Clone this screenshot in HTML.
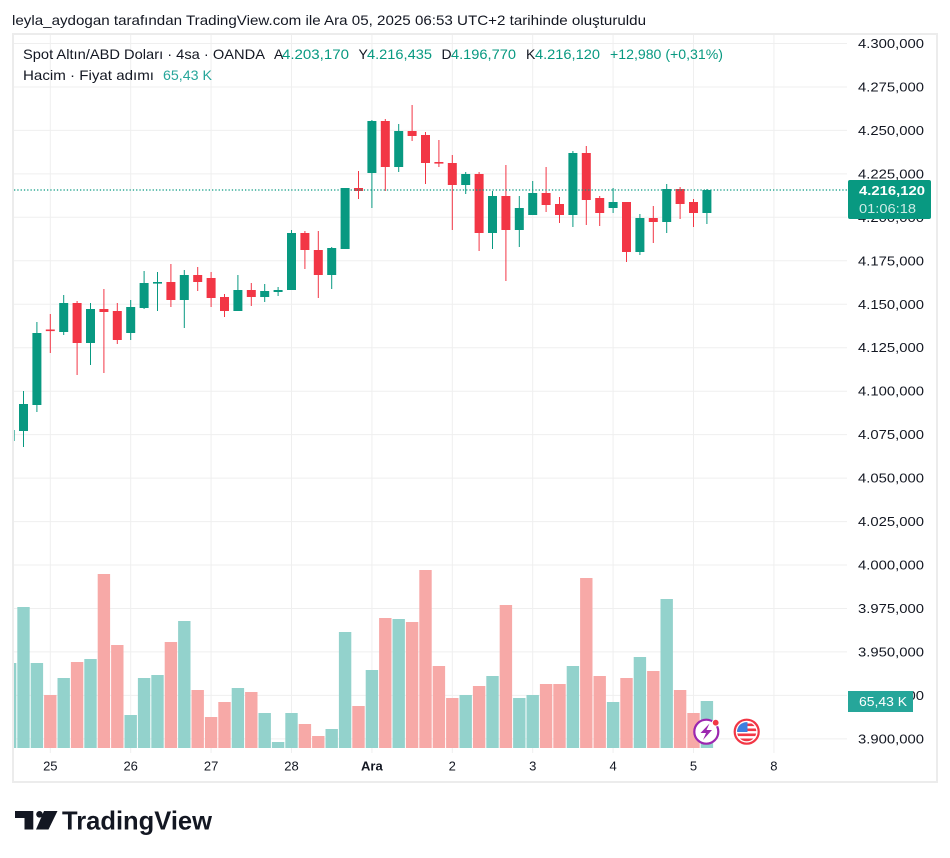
<!DOCTYPE html>
<html>
<head>
<meta charset="utf-8">
<style>
html,body{margin:0;padding:0;background:#fff;}
svg{display:block;}
text{font-family:"Liberation Sans","DejaVu Sans",sans-serif;}
</style>
</head>
<body>
<svg width="950" height="858" viewBox="0 0 950 858" xmlns="http://www.w3.org/2000/svg">
<rect x="0" y="0" width="950" height="858" fill="#ffffff"/>

<!-- header -->
<text x="12" y="25" font-size="14" fill="#131722" textLength="634" lengthAdjust="spacingAndGlyphs">leyla_aydogan tarafından TradingView.com ile Ara 05, 2025 06:53 UTC+2 tarihinde oluşturuldu</text>

<!-- frame -->
<rect x="13" y="34" width="924" height="748" fill="none" stroke="#ececec" stroke-width="2"/>

<defs>
<clipPath id="plot"><rect x="14" y="35" width="833" height="717"/></clipPath>
<clipPath id="flagc"><circle cx="746.7" cy="731.7" r="9.6"/></clipPath>
</defs>

<!-- grid -->
<g stroke="#efefef" stroke-width="1">
<line x1="14" x2="847" y1="43.5" y2="43.5"/>
<line x1="14" x2="847" y1="87" y2="87"/>
<line x1="14" x2="847" y1="130.4" y2="130.4"/>
<line x1="14" x2="847" y1="173.9" y2="173.9"/>
<line x1="14" x2="847" y1="217.3" y2="217.3"/>
<line x1="14" x2="847" y1="260.8" y2="260.8"/>
<line x1="14" x2="847" y1="304.3" y2="304.3"/>
<line x1="14" x2="847" y1="347.7" y2="347.7"/>
<line x1="14" x2="847" y1="391.2" y2="391.2"/>
<line x1="14" x2="847" y1="434.6" y2="434.6"/>
<line x1="14" x2="847" y1="478.1" y2="478.1"/>
<line x1="14" x2="847" y1="521.6" y2="521.6"/>
<line x1="14" x2="847" y1="565" y2="565"/>
<line x1="14" x2="847" y1="608.5" y2="608.5"/>
<line x1="14" x2="847" y1="651.9" y2="651.9"/>
<line x1="14" x2="847" y1="695.4" y2="695.4"/>
<line x1="14" x2="847" y1="738.9" y2="738.9"/>
<line y1="35" y2="753" x1="50.3" x2="50.3"/>
<line y1="35" y2="753" x1="130.7" x2="130.7"/>
<line y1="35" y2="753" x1="211.1" x2="211.1"/>
<line y1="35" y2="753" x1="291.5" x2="291.5"/>
<line y1="35" y2="753" x1="371.9" x2="371.9"/>
<line y1="35" y2="753" x1="452.3" x2="452.3"/>
<line y1="35" y2="753" x1="532.7" x2="532.7"/>
<line y1="35" y2="753" x1="613.1" x2="613.1"/>
<line y1="35" y2="753" x1="693.5" x2="693.5"/>
<line y1="35" y2="753" x1="773.9" x2="773.9"/>
</g>

<g clip-path="url(#plot)">
<!-- volume bars -->
<g fill="#93d2cc">
<rect x="3.9" y="663" width="12.4" height="85"/>
<rect x="17.3" y="607" width="12.4" height="141"/>
<rect x="30.7" y="663" width="12.4" height="85"/>
<rect x="57.5" y="678" width="12.4" height="70"/>
<rect x="84.3" y="659" width="12.4" height="89"/>
<rect x="124.5" y="715" width="12.4" height="33"/>
<rect x="137.9" y="678" width="12.4" height="70"/>
<rect x="151.3" y="675" width="12.4" height="73"/>
<rect x="178.1" y="621" width="12.4" height="127"/>
<rect x="231.7" y="688" width="12.4" height="60"/>
<rect x="258.5" y="713" width="12.4" height="35"/>
<rect x="271.9" y="742" width="12.4" height="6"/>
<rect x="285.3" y="713" width="12.4" height="35"/>
<rect x="325.5" y="729" width="12.4" height="19"/>
<rect x="338.9" y="632" width="12.4" height="116"/>
<rect x="365.7" y="670" width="12.4" height="78"/>
<rect x="392.5" y="619" width="12.4" height="129"/>
<rect x="459.5" y="695" width="12.4" height="53"/>
<rect x="486.3" y="676" width="12.4" height="72"/>
<rect x="513.1" y="698" width="12.4" height="50"/>
<rect x="526.5" y="695" width="12.4" height="53"/>
<rect x="566.7" y="666" width="12.4" height="82"/>
<rect x="606.9" y="702" width="12.4" height="46"/>
<rect x="633.7" y="657" width="12.4" height="91"/>
<rect x="660.5" y="599" width="12.4" height="149"/>
<rect x="700.7" y="701" width="12.4" height="47"/>
</g>
<g fill="#f7a9a7">
<rect x="44.1" y="695" width="12.4" height="53"/>
<rect x="70.9" y="662" width="12.4" height="86"/>
<rect x="97.7" y="574" width="12.4" height="174"/>
<rect x="111.1" y="645" width="12.4" height="103"/>
<rect x="164.7" y="642" width="12.4" height="106"/>
<rect x="191.5" y="690" width="12.4" height="58"/>
<rect x="204.9" y="717" width="12.4" height="31"/>
<rect x="218.3" y="702" width="12.4" height="46"/>
<rect x="245.1" y="692" width="12.4" height="56"/>
<rect x="298.7" y="724" width="12.4" height="24"/>
<rect x="312.1" y="736" width="12.4" height="12"/>
<rect x="352.3" y="706" width="12.4" height="42"/>
<rect x="379.1" y="618" width="12.4" height="130"/>
<rect x="405.9" y="622" width="12.4" height="126"/>
<rect x="419.3" y="570" width="12.4" height="178"/>
<rect x="432.7" y="666" width="12.4" height="82"/>
<rect x="446.1" y="698" width="12.4" height="50"/>
<rect x="472.9" y="686" width="12.4" height="62"/>
<rect x="499.7" y="605" width="12.4" height="143"/>
<rect x="539.9" y="684" width="12.4" height="64"/>
<rect x="553.3" y="684" width="12.4" height="64"/>
<rect x="580.1" y="578" width="12.4" height="170"/>
<rect x="593.5" y="676" width="12.4" height="72"/>
<rect x="620.3" y="678" width="12.4" height="70"/>
<rect x="647.1" y="671" width="12.4" height="77"/>
<rect x="673.9" y="690" width="12.4" height="58"/>
<rect x="687.3" y="713" width="12.4" height="35"/>
</g>

<!-- green candles -->
<g fill="#089981">
<rect x="9.6" y="428" width="1" height="19"/><rect x="5.6" y="430" width="9" height="11"/>
<rect x="23" y="391" width="1" height="56"/><rect x="19" y="404" width="9" height="27"/>
<rect x="36.4" y="322" width="1" height="90"/><rect x="32.4" y="333" width="9" height="72"/>
<rect x="63.2" y="295" width="1" height="40"/><rect x="59.2" y="303" width="9" height="29"/>
<rect x="90" y="303" width="1" height="62"/><rect x="86" y="309" width="9" height="34"/>
<rect x="130.2" y="300" width="1" height="40"/><rect x="126.2" y="307" width="9" height="26"/>
<rect x="143.6" y="271" width="1" height="38"/><rect x="139.6" y="283" width="9" height="25"/>
<rect x="157" y="272" width="1" height="39"/><rect x="153" y="282" width="9" height="1.6"/>
<rect x="183.8" y="270" width="1" height="58"/><rect x="179.8" y="275" width="9" height="25"/>
<rect x="237.4" y="275" width="1" height="36"/><rect x="233.4" y="290" width="9" height="21"/>
<rect x="264.2" y="284" width="1" height="18"/><rect x="260.2" y="291" width="9" height="6"/>
<rect x="277.6" y="287" width="1" height="9"/><rect x="273.6" y="290" width="9" height="2"/>
<rect x="291" y="230" width="1" height="60"/><rect x="287" y="233" width="9" height="57"/>
<rect x="331.2" y="247" width="1" height="42"/><rect x="327.2" y="248" width="9" height="27"/>
<rect x="344.6" y="188" width="1" height="61"/><rect x="340.6" y="188" width="9" height="61"/>
<rect x="371.4" y="120" width="1" height="88"/><rect x="367.4" y="121" width="9" height="52"/>
<rect x="398.2" y="124" width="1" height="48"/><rect x="394.2" y="131" width="9" height="36"/>
<rect x="465.2" y="172" width="1" height="22"/><rect x="461.2" y="174" width="9" height="11"/>
<rect x="492" y="191" width="1" height="58"/><rect x="488" y="196" width="9" height="37"/>
<rect x="518.8" y="196" width="1" height="51"/><rect x="514.8" y="208" width="9" height="22"/>
<rect x="532.2" y="181" width="1" height="34"/><rect x="528.2" y="193" width="9" height="22"/>
<rect x="572.4" y="151" width="1" height="76"/><rect x="568.4" y="153" width="9" height="62"/>
<rect x="612.6" y="188" width="1" height="25"/><rect x="608.6" y="202" width="9" height="6"/>
<rect x="639.4" y="214" width="1" height="41"/><rect x="635.4" y="218" width="9" height="34"/>
<rect x="666.2" y="184" width="1" height="49"/><rect x="662.2" y="189" width="9" height="33"/>
<rect x="706.4" y="189" width="1" height="35"/><rect x="702.4" y="190" width="9" height="23"/>
</g>
<!-- red candles -->
<g fill="#f23645">
<rect x="49.8" y="314" width="1" height="39"/><rect x="45.8" y="329.5" width="9" height="1.6"/>
<rect x="76.6" y="301" width="1" height="74"/><rect x="72.6" y="303" width="9" height="40"/>
<rect x="103.4" y="289" width="1" height="84"/><rect x="99.4" y="309" width="9" height="3"/>
<rect x="116.8" y="303" width="1" height="41"/><rect x="112.8" y="311" width="9" height="29"/>
<rect x="170.4" y="264" width="1" height="43"/><rect x="166.4" y="282" width="9" height="18"/>
<rect x="197.2" y="267" width="1" height="24"/><rect x="193.2" y="275" width="9" height="7"/>
<rect x="210.6" y="272" width="1" height="35"/><rect x="206.6" y="278" width="9" height="20"/>
<rect x="224" y="294" width="1" height="23"/><rect x="220" y="297" width="9" height="14"/>
<rect x="250.8" y="283" width="1" height="23"/><rect x="246.8" y="290" width="9" height="7"/>
<rect x="304.4" y="231" width="1" height="38"/><rect x="300.4" y="233" width="9" height="17"/>
<rect x="317.8" y="231" width="1" height="67"/><rect x="313.8" y="250" width="9" height="25"/>
<rect x="358" y="171" width="1" height="28"/><rect x="354" y="188" width="9" height="3"/>
<rect x="384.8" y="119" width="1" height="72"/><rect x="380.8" y="121" width="9" height="46"/>
<rect x="411.6" y="105" width="1" height="36"/><rect x="407.6" y="131" width="9" height="5"/>
<rect x="425" y="132" width="1" height="52"/><rect x="421" y="135" width="9" height="28"/>
<rect x="438.4" y="140" width="1" height="27"/><rect x="434.4" y="162" width="9" height="1.6"/>
<rect x="451.8" y="155" width="1" height="75"/><rect x="447.8" y="163" width="9" height="22"/>
<rect x="478.6" y="172" width="1" height="79"/><rect x="474.6" y="174" width="9" height="59"/>
<rect x="505.4" y="165" width="1" height="116"/><rect x="501.4" y="196" width="9" height="34"/>
<rect x="545.6" y="167" width="1" height="45"/><rect x="541.6" y="193" width="9" height="12"/>
<rect x="559" y="197" width="1" height="26"/><rect x="555" y="204" width="9" height="11"/>
<rect x="585.8" y="146" width="1" height="79"/><rect x="581.8" y="153" width="9" height="47"/>
<rect x="599.2" y="196" width="1" height="30"/><rect x="595.2" y="198" width="9" height="15"/>
<rect x="626" y="202" width="1" height="60"/><rect x="622" y="202" width="9" height="50"/>
<rect x="652.8" y="206" width="1" height="37"/><rect x="648.8" y="218" width="9" height="4"/>
<rect x="679.6" y="187" width="1" height="32"/><rect x="675.6" y="189" width="9" height="15"/>
<rect x="693" y="199" width="1" height="28"/><rect x="689" y="202" width="9" height="11"/>
</g>

<!-- last price dotted line -->
<line x1="14" x2="847" y1="190" y2="190" stroke="#089981" stroke-width="1.3" stroke-dasharray="1.3 2"/>
</g>

<!-- legend -->
<g font-size="14">
<text x="23" y="59" fill="#131722" textLength="242" lengthAdjust="spacingAndGlyphs">Spot Altın/ABD Doları · 4sa · OANDA</text>
<text x="274" y="59" fill="#131722">A</text>
<text x="282" y="59" fill="#089981" textLength="67" lengthAdjust="spacingAndGlyphs">4.203,170</text>
<text x="358.5" y="59" fill="#131722">Y</text>
<text x="367" y="59" fill="#089981" textLength="65" lengthAdjust="spacingAndGlyphs">4.216,435</text>
<text x="441.5" y="59" fill="#131722">D</text>
<text x="451" y="59" fill="#089981" textLength="65" lengthAdjust="spacingAndGlyphs">4.196,770</text>
<text x="526" y="59" fill="#131722">K</text>
<text x="535" y="59" fill="#089981" textLength="65" lengthAdjust="spacingAndGlyphs">4.216,120</text>
<text x="610" y="59" fill="#089981" textLength="113" lengthAdjust="spacingAndGlyphs">+12,980 (+0,31%)</text>
<text x="23" y="80" fill="#131722" textLength="131" lengthAdjust="spacingAndGlyphs">Hacim · Fiyat adımı</text>
<text x="163" y="80" fill="#26a69a" textLength="49" lengthAdjust="spacingAndGlyphs">65,43 K</text>
</g>

<!-- price axis labels -->
<g font-size="13" fill="#131722">
<text x="858" y="48" textLength="66" lengthAdjust="spacingAndGlyphs">4.300,000</text>
<text x="858" y="91.5" textLength="66" lengthAdjust="spacingAndGlyphs">4.275,000</text>
<text x="858" y="135" textLength="66" lengthAdjust="spacingAndGlyphs">4.250,000</text>
<text x="858" y="178.4" textLength="66" lengthAdjust="spacingAndGlyphs">4.225,000</text>
<text x="858" y="221.8" textLength="66" lengthAdjust="spacingAndGlyphs">4.200,000</text>
<text x="858" y="265.3" textLength="66" lengthAdjust="spacingAndGlyphs">4.175,000</text>
<text x="858" y="308.8" textLength="66" lengthAdjust="spacingAndGlyphs">4.150,000</text>
<text x="858" y="352.2" textLength="66" lengthAdjust="spacingAndGlyphs">4.125,000</text>
<text x="858" y="395.7" textLength="66" lengthAdjust="spacingAndGlyphs">4.100,000</text>
<text x="858" y="439.1" textLength="66" lengthAdjust="spacingAndGlyphs">4.075,000</text>
<text x="858" y="482.6" textLength="66" lengthAdjust="spacingAndGlyphs">4.050,000</text>
<text x="858" y="526.1" textLength="66" lengthAdjust="spacingAndGlyphs">4.025,000</text>
<text x="858" y="569.5" textLength="66" lengthAdjust="spacingAndGlyphs">4.000,000</text>
<text x="858" y="613" textLength="66" lengthAdjust="spacingAndGlyphs">3.975,000</text>
<text x="858" y="656.4" textLength="66" lengthAdjust="spacingAndGlyphs">3.950,000</text>
<text x="858" y="699.9" textLength="66" lengthAdjust="spacingAndGlyphs">3.925,000</text>
<text x="858" y="743.4" textLength="66" lengthAdjust="spacingAndGlyphs">3.900,000</text>
</g>

<!-- last price box -->
<rect x="848" y="180" width="83" height="39" rx="2" fill="#089981"/>
<text x="859" y="195" font-size="13" font-weight="bold" fill="#ffffff" textLength="66" lengthAdjust="spacingAndGlyphs">4.216,120</text>
<text x="859" y="213" font-size="13" fill="#ffffff" fill-opacity="0.8" textLength="57" lengthAdjust="spacingAndGlyphs">01:06:18</text>

<!-- volume box -->
<rect x="848" y="691" width="65" height="21" fill="#26a69a"/>
<text x="859" y="706" font-size="13" fill="#ffffff" textLength="48" lengthAdjust="spacingAndGlyphs">65,43 K</text>

<!-- time axis -->
<g font-size="13" fill="#131722" text-anchor="middle">
<text x="50.3" y="770.5">25</text>
<text x="130.7" y="770.5">26</text>
<text x="211.1" y="770.5">27</text>
<text x="291.5" y="770.5">28</text>
<text x="371.9" y="770.5" font-weight="bold">Ara</text>
<text x="452.3" y="770.5">2</text>
<text x="532.7" y="770.5">3</text>
<text x="613.1" y="770.5">4</text>
<text x="693.5" y="770.5">5</text>
<text x="773.9" y="770.5">8</text>
</g>

<!-- event icons -->
<circle cx="706.3" cy="731.7" r="12" fill="#ffffff" stroke="#9c27b0" stroke-width="2.2"/>
<path d="M709.5,723.5 L700.5,733 L706,733 L703,740 L712,730 L706.5,730 Z" fill="#9c27b0"/>
<circle cx="715.7" cy="722.7" r="3.4" fill="#f23645" stroke="#ffffff" stroke-width="1"/>

<circle cx="746.7" cy="731.7" r="12" fill="#ffffff" stroke="#f23645" stroke-width="2.2"/>
<g clip-path="url(#flagc)">
<rect x="735" y="720" width="24" height="24" fill="#ffffff"/>
<rect x="735" y="723.5" width="24" height="2.6" fill="#f23645"/>
<rect x="735" y="728.5" width="24" height="2.6" fill="#f23645"/>
<rect x="735" y="733.5" width="24" height="2.6" fill="#f23645"/>
<rect x="735" y="738.5" width="24" height="5" fill="#f23645"/>
<rect x="735" y="720" width="12.5" height="12" fill="#3d7fe0"/>
</g>

<!-- TradingView logo -->
<g fill="#131722">
<rect x="15" y="811" width="18" height="7"/>
<rect x="24.5" y="811" width="8.8" height="18.5"/>
<circle cx="39.5" cy="814.3" r="3.3"/>
<polygon points="44,811 57.5,811 48.5,829.5 36,829.5"/>
</g>
<text x="62" y="829.5" font-size="26" font-weight="bold" fill="#131722" textLength="150" lengthAdjust="spacingAndGlyphs">TradingView</text>
</svg>
</body>
</html>
